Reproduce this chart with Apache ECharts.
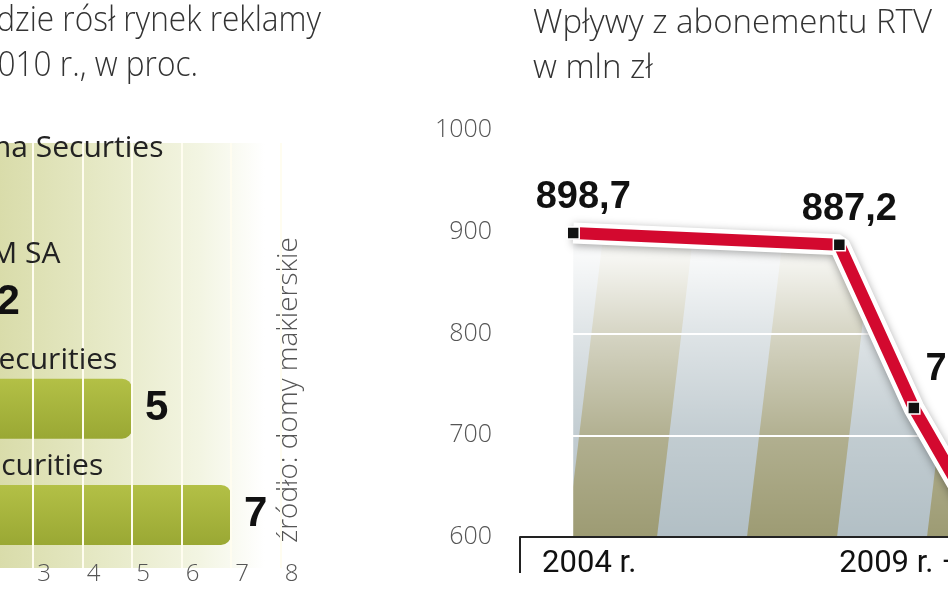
<!DOCTYPE html>
<html lang="pl">
<head>
  <meta charset="UTF-8">
  <title>Rynek reklamy i abonament RTV</title>
  <script src="https://cdn.jsdelivr.net/npm/echarts@6.0.0/dist/echarts.min.js"></script>
  <style>
    html, body { margin: 0; padding: 0; background: #fff; }
    #chart { width: 948px; height: 593px; }
  </style>
</head>
<body>
  <div id="chart"></div>
  <script>
    // lewy wykres: prognozy domów maklerskich (od góry do dołu)
    const brokers = ['Ipopema Securties', 'DM IDM SA', 'Erste Securities', 'KBC Securities'];
    const growth = [1, 2, 5, 7];
    const growthTicks = [0, 1, 2, 3, 4, 5, 6, 7, 8];

    // prawy wykres: wpływy z abonamentu RTV, mln zł
    const periods = [2004, 2009, 2010.4, 2011.4];
    const income = [898.7, 887.2, 726.8, 636];
    const incomeTicks = [600, 700, 800, 900, 1000];
    const periodTicks = [2004, 2009];
    const periodLabels = ['2004 r.', '2009 r. – 2010 r.'];

    const chart = echarts.init(document.getElementById('chart'));

    // ukośne pasy pod linią, wygaszane ku górze
    function stripes() {
      const c = document.createElement('canvas');
      c.width = 180; c.height = 593;
      const g = c.getContext('2d');
      g.fillStyle = '#b2bfc5';
      g.fillRect(0, 0, 180, 593);
      g.fillStyle = '#9d9b73';
      const slant = 0.12;
      for (let k = -1; k <= 1; k++) {
        const x0 = 27 + 180 * k;
        g.beginPath();
        g.moveTo(x0 + 537 * slant, 0);
        g.lineTo(x0 + 90 + 537 * slant, 0);
        g.lineTo(x0 + 90 - 56 * slant, 593);
        g.lineTo(x0 - 56 * slant, 593);
        g.closePath();
        g.fill();
      }
      const fade = g.createLinearGradient(0, 537, 0, 210);
      fade.addColorStop(0, 'rgba(255,255,255,0)');
      fade.addColorStop(0.3, 'rgba(255,255,255,0.2)');
      fade.addColorStop(0.6, 'rgba(255,255,255,0.55)');
      fade.addColorStop(0.85, 'rgba(255,255,255,0.9)');
      fade.addColorStop(1, 'rgba(255,255,255,1)');
      g.fillStyle = fade;
      g.fillRect(0, 0, 180, 593);
      return { image: c, repeat: 'repeat' };
    }

    const fmt = v => v.toFixed(1).replace('.', ',');
    const pointLabel = i => i < 2
      ? { position: 'top', distance: 10, offset: [10, 0] }
      : { position: 'right', distance: 5, offset: [0, -38] };
    const line = periods.map((p, i) => ({ value: [p, income[i]], label: pointLabel(i) }));
    const lineData = periods.map((p, i) => [p, income[i]]);

    const option = {
      animation: false,
      backgroundColor: '#fff',
      title: [{
        text: 'Wpływy z abonementu RTV\nw mln zł',
        left: 533, top: 1, padding: 0,
        textStyle: { fontFamily: 'Open Sans', fontWeight: 300, fontSize: 33, lineHeight: 45, color: '#333' }
      }],
      graphic: [
        { type: 'text', x: 321, y: 21, scaleX: 0.93,
          style: { text: 'będzie rósł rynek reklamy', textAlign: 'right', textVerticalAlign: 'middle',
                   fontFamily: 'Open Sans', fontWeight: 300, fontSize: 34, fill: '#333' } },
        { type: 'text', x: 198, y: 66, scaleX: 0.93,
          style: { text: 'w 2010 r., w proc.', textAlign: 'right', textVerticalAlign: 'middle',
                   fontFamily: 'Open Sans', fontWeight: 300, fontSize: 34, fill: '#333' } },
        { type: 'text', x: 289, y: 390, rotation: Math.PI / 2,
          style: { text: 'źródło: domy maklerskie', textAlign: 'center', textVerticalAlign: 'middle',
                   fontFamily: 'Open Sans', fontWeight: 300, fontSize: 28, fill: '#555' } }
      ],
      grid: [
        { left: -115.5, right: 667.5, top: 143, bottom: 25, outerBoundsMode: 'none',
          show: true, borderWidth: 0,
          backgroundColor: new echarts.graphic.LinearGradient(0, 0, 1, 0, [
            { offset: 0, color: '#ccd195' },
            { offset: 0.29, color: '#d9dcaa' },
            { offset: 0.55, color: '#e6e9c6' },
            { offset: 0.8, color: '#f3f5e3' },
            { offset: 0.96, color: '#ffffff' }
          ]) },
        { left: 520, right: -51, top: 130, bottom: 56, outerBoundsMode: 'none' }
      ],
      xAxis: [
        { gridIndex: 0, type: 'value', min: growthTicks[0], max: growthTicks[growthTicks.length - 1], interval: 1, z: 3,
          axisLine: { show: false }, axisTick: { show: false },
          splitLine: { lineStyle: { color: '#fffdf0', width: 2 } },
          axisLabel: { margin: -6, padding: [0, 0, 0, 22], fontFamily: 'Open Sans', fontWeight: 300, fontSize: 24, color: '#555' } },
        { gridIndex: 1, type: 'value', min: 2003, max: 2012, interval: 1, z: 5,
          axisLine: { lineStyle: { color: '#222', width: 2 } },
          axisTick: { show: true, customValues: [2003], length: 36, lineStyle: { color: '#222', width: 2 } },
          splitLine: { show: false },
          axisLabel: { customValues: periodTicks, align: 'left', alignMinLabel: 'center', alignMaxLabel: 'left',
            margin: 12, fontFamily: 'Roboto', fontSize: 31, color: '#111',
            rich: { s: { width: 32 } },
            formatter: v => {
              const i = periodTicks.indexOf(v);
              return i === 0 ? '{s|}' + periodLabels[i] : periodLabels[i];
            } } }
      ],
      yAxis: [
        { gridIndex: 0, type: 'category', inverse: true, data: brokers, z: 4,
          axisLine: { show: false }, axisTick: { show: false }, splitLine: { show: false },
          axisLabel: { inside: true, interval: 0, margin: 19, verticalAlign: 'middle', lineHeight: 96,
                       formatter: v => v + '\n ',
                       fontFamily: 'Open Sans', fontSize: 30, color: '#222' } },
        { gridIndex: 1, type: 'value', min: incomeTicks[0], max: incomeTicks[incomeTicks.length - 1], interval: 100, z: 2,
          axisLine: { show: false }, axisTick: { show: false },
          splitLine: { lineStyle: { color: '#fff', width: 2 } },
          axisLabel: { margin: 28, formatter: v => String(v), fontFamily: 'Open Sans', fontWeight: 300, fontSize: 25, color: '#555' } }
      ],
      series: [
        { type: 'bar', xAxisIndex: 0, yAxisIndex: 0, data: growth, barWidth: 60, z: 2,
          itemStyle: { borderRadius: [0, 10, 10, 0],
            color: new echarts.graphic.LinearGradient(0, 0, 0, 1, [
              { offset: 0, color: '#b3c046' }, { offset: 1, color: '#9aa834' }]) },
          label: { show: true, position: 'right', distance: 13, fontFamily: 'Liberation Sans', fontWeight: 'bold', fontSize: 42, color: '#111' } },
        { type: 'line', xAxisIndex: 1, yAxisIndex: 1, data: lineData, symbol: 'none', silent: true, z: 1,
          lineStyle: { width: 0 }, areaStyle: { color: stripes(), opacity: 1, origin: 'start' } },
        { type: 'line', xAxisIndex: 1, yAxisIndex: 1, data: lineData, symbol: 'none', silent: true, z: 3,
          lineStyle: { width: 21, color: '#fff', shadowBlur: 8, shadowColor: 'rgba(0,0,0,0.35)', shadowOffsetY: 2 } },
        { type: 'line', xAxisIndex: 1, yAxisIndex: 1, data: line, z: 4,
          symbol: 'rect', symbolSize: 12,
          lineStyle: { width: 12, color: '#d3092f' },
          itemStyle: { color: '#111', borderColor: '#fff', borderWidth: 1.5 },
          label: { show: true, fontFamily: 'Liberation Sans', fontWeight: 'bold', fontSize: 38, color: '#111',
                   formatter: p => fmt(p.value[1]) } }
      ]
    };
    chart.setOption(option);
  </script>
</body>
</html>
